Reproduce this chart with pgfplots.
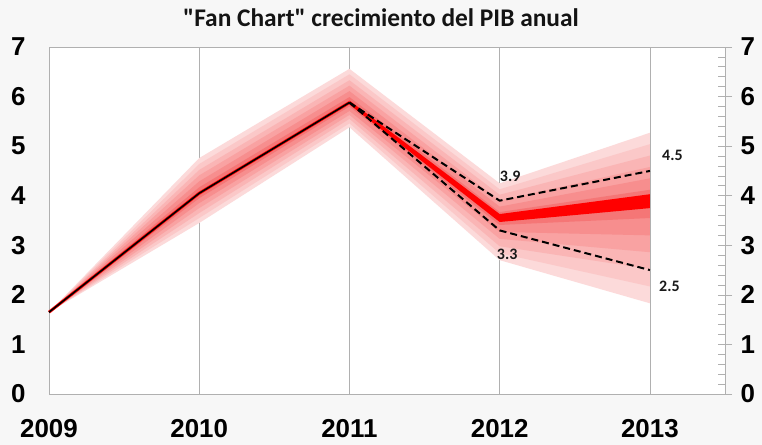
\documentclass[border=0pt]{standalone}
\usepackage{pgfplots}
\pgfplotsset{compat=1.18}
\usepackage{fontspec}
\setmainfont{Liberation Sans}
\newfontfamily\calibri{Carlito}
\definecolor{b6}{HTML}{FCDADA}
\definecolor{b5}{HTML}{FBC8C8}
\definecolor{b4}{HTML}{FAB5B5}
\definecolor{b3}{HTML}{F9A2A2}
\definecolor{b2}{HTML}{F78E8E}
\definecolor{b1}{HTML}{F57676}
\definecolor{gridg}{HTML}{B0B0B0}
\begin{document}
\begin{tikzpicture}
\path[use as bounding box, fill=black!3] (-49bp,-51bp) rectangle (713bp,394bp);
\begin{axis}[
  at={(0,0)}, anchor=south west,
  scale only axis, width=676bp, height=347bp,
  xmin=2009, xmax=2013.5, ymin=0, ymax=7,
  axis background/.style={fill=white},
  axis line style={gridg, line width=0.8pt},
  xtick={2009,2010,2011,2012,2013},
  xticklabels={2009,2010,2011,2012,2013},
  ytick={0,1,2,3,4,5,6,7},
  major tick length=0pt,
  xmajorgrids, grid style={gridg, line width=0.7pt},
  /pgf/number format/assume math mode=true,
  ticklabel style={font=\bfseries\fontsize{26}{26}\selectfont},
  xticklabel style={yshift=-22bp},
  yticklabel style={xshift=-20bp},
  clip=false,
]
% fan bands, outermost first
\addplot[fill=b6, draw=none] coordinates {(2009,1.65) (2010,4.76) (2011,6.56) (2012,4.25) (2013,5.27) (2013,1.83) (2012,2.70) (2011,5.38) (2010,3.45) (2009,1.65)} -- cycle;
\addplot[fill=b5, draw=none] coordinates {(2009,1.65) (2010,4.64) (2011,6.45) (2012,4.13) (2013,5.04) (2013,2.17) (2012,2.84) (2011,5.46) (2010,3.55) (2009,1.65)} -- cycle;
\addplot[fill=b4, draw=none] coordinates {(2009,1.65) (2010,4.52) (2011,6.33) (2012,4.02) (2013,4.81) (2013,2.52) (2012,2.98) (2011,5.55) (2010,3.65) (2009,1.65)} -- cycle;
\addplot[fill=b3, draw=none] coordinates {(2009,1.65) (2010,4.41) (2011,6.22) (2012,3.90) (2013,4.58) (2013,2.86) (2012,3.13) (2011,5.63) (2010,3.75) (2009,1.65)} -- cycle;
\addplot[fill=b2, draw=none] coordinates {(2009,1.65) (2010,4.29) (2011,6.11) (2012,3.78) (2013,4.35) (2013,3.20) (2012,3.27) (2011,5.71) (2010,3.85) (2009,1.65)} -- cycle;
\addplot[fill=b1, draw=none] coordinates {(2009,1.65) (2010,4.17) (2011,5.99) (2012,3.67) (2013,4.12) (2013,3.55) (2012,3.41) (2011,5.80) (2010,3.95) (2009,1.65)} -- cycle;
% central band
\addplot[fill=red, draw=none] coordinates {(2011,5.92) (2012,3.63) (2013,4.03) (2013,3.75) (2012,3.47) (2011,5.84)} -- cycle;
\addplot[red, line width=3pt] coordinates {(2009,1.65) (2010,4.05) (2011,5.88)};
% history line
\addplot[black, line width=1.6pt] coordinates {(2009,1.65) (2010,4.05) (2011,5.88)};
% scenario lines
\addplot[black, line width=2pt, dash pattern=on 7pt off 4pt] coordinates {(2011,5.88) (2012,3.9) (2013,4.5)};
\addplot[black, line width=2pt, dash pattern=on 7pt off 4pt] coordinates {(2011,5.88) (2012,3.3) (2013,2.5)};
\node[font=\calibri\bfseries\fontsize{16}{16}\selectfont, text=black!90] at (axis cs:2012.07,4.40) {3.9};
\node[font=\calibri\bfseries\fontsize{16}{16}\selectfont, text=black!90] at (axis cs:2013.15,4.82) {4.5};
\node[font=\calibri\bfseries\fontsize{16}{16}\selectfont, text=black!90] at (axis cs:2012.05,2.82) {3.3};
\node[font=\calibri\bfseries\fontsize{16}{16}\selectfont, text=black!90] at (axis cs:2013.13,2.18) {2.5};
\end{axis}
\begin{axis}[
  at={(0,0)}, anchor=south west,
  scale only axis, width=676bp, height=347bp,
  xmin=2009, xmax=2013.5, ymin=0, ymax=7,
  axis x line=none, axis y line*=right,
  axis line style={gridg, line width=0.8pt},
  ytick={0,1,2,3,4,5,6,7},
  minor y tick num=4,
  major tick length=14bp, minor tick length=7bp,
  ytick align=inside,
  tick style={gridg, line width=0.7pt},
  every major tick/.append style={xshift=7bp},
  /pgf/number format/assume math mode=true,
  ticklabel style={font=\bfseries\fontsize{26}{26}\selectfont},
  yticklabel style={xshift=12bp},
]
\end{axis}
\node[font=\calibri\bfseries\fontsize{25.5}{25.5}\selectfont, text=black!92] at (332bp,376bp) {"Fan Chart" crecimiento del PIB anual};
\end{tikzpicture}
\end{document}
